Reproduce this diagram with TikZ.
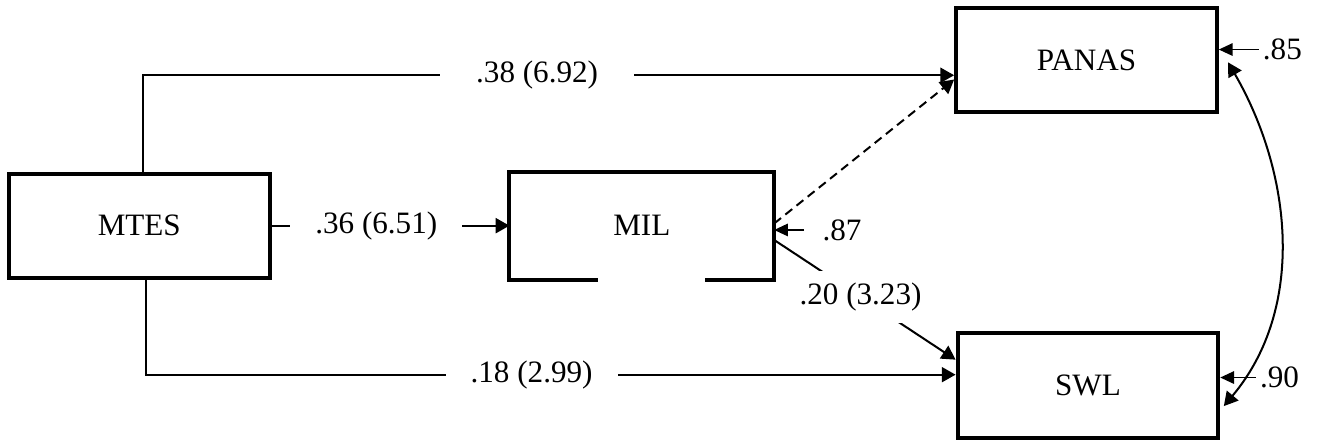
\documentclass[tikz,border=0pt]{standalone}
\usepackage{fontspec}
\setmainfont{Liberation Serif}
\usetikzlibrary{arrows.meta, positioning}

\begin{document}
\begin{tikzpicture}[
        var/.style={rectangle, minimum width=3.65cm, minimum height=1.46cm, line width=1.6pt, inner sep=0pt},
        effect/.style={line width=0.8pt, -{Triangle[length=5.5pt, width=6pt]}},
        coef/.style={fill=white, inner xsep=0.35cm, inner ysep=0.1cm},
        resid/.style={line width=0.55pt, -{Triangle[length=5.5pt, width=5pt]}},
        errlabel/.style={inner sep=0.05cm},
        font=\fontsize{12.4}{15}\selectfont
    ]
        \useasboundingbox (0,0) rectangle (18.44,6.16);

        % Variables
        \node[var, draw] (mtes) at (1.95,3.0) {MTES};
        \node[var, right=3.33cm of mtes] (mil) {MIL};
        \node[var, draw, above right=0.8cm and 2.52cm of mil] (panas) {PANAS};
        \node[var, draw, below right=0.72cm and 2.54cm of mil] (swl) {SWL};

        % MIL frame, open at the bottom
        \draw[line width=1.6pt] ([xshift=-0.62cm]mil.south) -| (mil.north west) -- (mil.north east) |- ([xshift=0.88cm]mil.south);

        % Paths from MTES
        \draw[effect] ([xshift=0.05cm]mtes.north) |- ([yshift=-0.21cm]panas.west)
            node[coef, pos=0.743, inner xsep=0.5cm] {.38 (6.92)};
        \draw[effect] (mtes.east) -- (mil.west) node[coef, pos=0.44] {.36 (6.51)};
        \draw[effect] ([xshift=0.1cm]mtes.south) |- ([yshift=0.15cm]swl.west)
            node[coef, pos=0.738] {.18 (2.99)};

        % Paths from MIL
        \draw[effect, dash pattern=on 3.5pt off 2.2pt] ([yshift=0.03cm]mil.east) -- ([yshift=-0.27cm]panas.west);
        \draw[effect] ([yshift=-0.2cm]mil.east) -- ([yshift=0.36cm]swl.west)
            node[coef, pos=0.476, inner xsep=0.05cm, inner ysep=0.17cm] {.20 (3.23)};

        % Residuals
        \node[errlabel, right=0.56cm of panas.east, yshift=0.15cm] (e85) {.85};
        \draw[resid] (e85.west) -- (e85.west -| panas.east);
        \node[errlabel, right=0.5cm of swl.east, yshift=0.11cm] (e90) {.90};
        \draw[resid] (e90.west) -- (e90.west -| swl.east);
        \node[errlabel, right=0.42cm of mil.east, yshift=-0.06cm, inner xsep=0.25cm] (e87) {.87};
        \draw[resid] (e87.west) -- (e87.west -| mil.east);

        % Residual covariance
        \draw[line width=0.8pt, {Triangle[length=5.5pt, width=6pt]}-{Triangle[length=5.5pt, width=6pt]}]
            ([xshift=0.13cm, yshift=-0.03cm]panas.east) to[out=-60, in=50, looseness=0.95] ([xshift=0.05cm, yshift=-0.29cm]swl.east);

    \end{tikzpicture}
\end{document}
